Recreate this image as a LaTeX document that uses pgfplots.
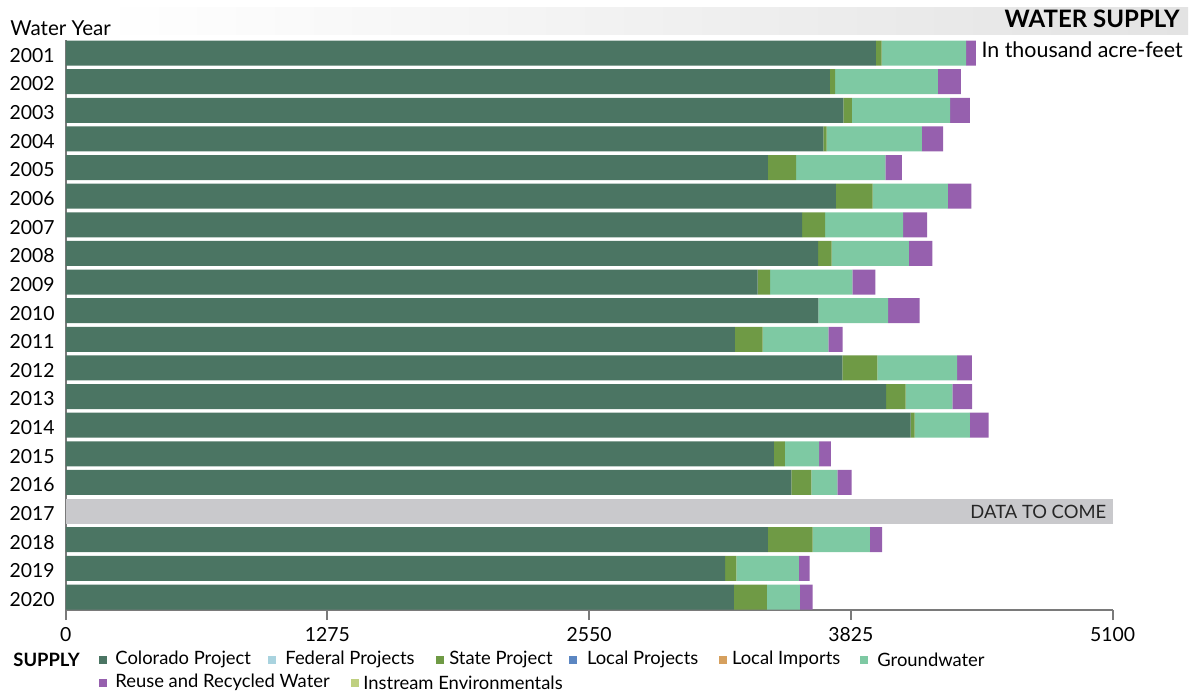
\documentclass[border=0pt]{standalone}
\usepackage{pgfplots}
\usepackage{pgfplotstable}
\pgfplotsset{compat=1.18}
\usepackage{fontspec}
\setmainfont{Lato}
\definecolor{colo}{HTML}{4B7563}
\definecolor{fed}{HTML}{A9D3DF}
\definecolor{state}{HTML}{6F9A45}
\definecolor{lproj}{HTML}{5B86C2}
\definecolor{limp}{HTML}{D6A05E}
\definecolor{gw}{HTML}{7EC9A3}
\definecolor{reuse}{HTML}{9660AE}
\definecolor{inst}{HTML}{BFD080}
\definecolor{nodata}{HTML}{C9C9CC}
\definecolor{axgray}{HTML}{7A7A7A}

\pgfplotstableread{
year colo fed state lproj limp gw reuse inst nodata
2001 3947 0 28 0 0 411 48 0 0
2002 3723 0 25 0 0 501 112 0 0
2003 3788 0 42 0 0 478 97 0 0
2004 3691 0 16 0 0 464 103 0 0
2005 3421 0 137 0 0 435 80 0 0
2006 3752 0 179 0 0 367 114 0 0
2007 3588 0 112 0 0 380 116 0 0
2008 3665 0 66 0 0 377 114 0 0
2009 3371 0 60 0 0 401 112 0 0
2010 3666 0 0 0 0 341 153 0 0
2011 3260 0 135 0 0 320 70 0 0
2012 3783 0 171 0 0 389 71 0 0
2013 3997 0 95 0 0 227 97 0 0
2014 4116 0 20 0 0 269 91 0 0
2015 3450 0 53 0 0 167 57 0 0
2016 3535 0 97 0 0 127 70 0 0
2017 0 0 0 0 0 0 0 0 5100
2018 3421 0 218 0 0 278 60 0 0
2019 3212 0 55 0 0 305 52 0 0
2020 3255 0 161 0 0 160 63 0 0
}\supply

\begin{document}
\begin{tikzpicture}[x=1pt,y=1pt]
\useasboundingbox (0,0) rectangle (598,346);
% title band
\shade[left color=white, right color=black!11] (50,342) rectangle (594,328.5);
\node[anchor=base east, font=\bfseries\fontsize{12}{14}\selectfont, inner sep=0pt] at (590,332.3) {WATER SUPPLY};
\node[anchor=base east, font=\fontsize{10.7}{12}\selectfont, inner sep=0pt] at (591.5,317) {In thousand acre-feet};
\node[anchor=base west, font=\fontsize{10.3}{12}\selectfont, inner sep=0pt] at (5,328) {Water Year};

\begin{axis}[
  at={(32.9pt,41pt)}, anchor=south west, scale only axis,
  width=523.4pt, height=285pt,
  xbar stacked, bar width=12.5pt,
  xmin=0, xmax=5100, ymin=2000.546, ymax=2020.454,
  y dir=reverse,
  ytick={2001,2002,...,2020},
  yticklabels={2001,2002,2003,2004,2005,2006,2007,2008,2009,2010,2011,2012,2013,2014,2015,2016,2017,2018,2019,2020},
  xtick={0,1275,2550,3825,5100},
  xticklabels={0,1275,2550,3825,5100},
  scaled x ticks=false,
  axis x line*=bottom, axis y line*=left,
  axis line style={axgray, line width=1pt, -},
  x tick style={axgray, line width=1pt},
  y tick style={draw=none},
  tick align=outside, major tick length=5pt,
  ticklabel style={font=\fontsize{9.7}{12}\selectfont},
  yticklabel style={xshift=3pt, yshift=-1.2pt},
  every axis plot/.append style={draw=none},
  clip=false,
]
\addplot[fill=colo] table[x=colo,y=year] \supply;
\addplot[fill=fed] table[x=fed,y=year] \supply;
\addplot[fill=state] table[x=state,y=year] \supply;
\addplot[fill=lproj] table[x=lproj,y=year] \supply;
\addplot[fill=limp] table[x=limp,y=year] \supply;
\addplot[fill=gw] table[x=gw,y=year] \supply;
\addplot[fill=reuse] table[x=reuse,y=year] \supply;
\addplot[fill=inst] table[x=inst,y=year] \supply;
\addplot[fill=nodata] table[x=nodata,y=year] \supply;
\coordinate (dtc) at (axis cs:5100,2017);
\end{axis}
\node[anchor=east, font=\fontsize{9.2}{10}\selectfont, text=black!85, inner sep=0pt] at ([xshift=-3pt,yshift=-0.3pt]dtc) {DATA TO COME};

% legend
\node[anchor=west, font=\bfseries\fontsize{9.2}{10}\selectfont, inner sep=0pt] at (6.5,16.25) {SUPPLY};
\foreach \sx/\tx/\yy/\col/\lab in {
  49.5/57.5/16.25/colo/Colorado Project,
  134/142.5/16.25/fed/Federal Projects,
  218/224.5/16.25/state/State Project,
  284.5/293.3/16.25/lproj/Local Projects,
  359.5/365.8/16.25/limp/Local Imports,
  430/438.5/16.25/gw/Groundwater,
  49.5/57.5/4.75/reuse/Reuse and Recycled Water,
  175.5/181.5/4.75/inst/Instream Environmentals}{
  \fill[\col] (\sx,\yy-2) rectangle ++(4,4);
  \node[anchor=west, font=\fontsize{9.2}{10}\selectfont, inner sep=0pt] at (\tx,\yy) {\lab};
}
\end{tikzpicture}
\end{document}
